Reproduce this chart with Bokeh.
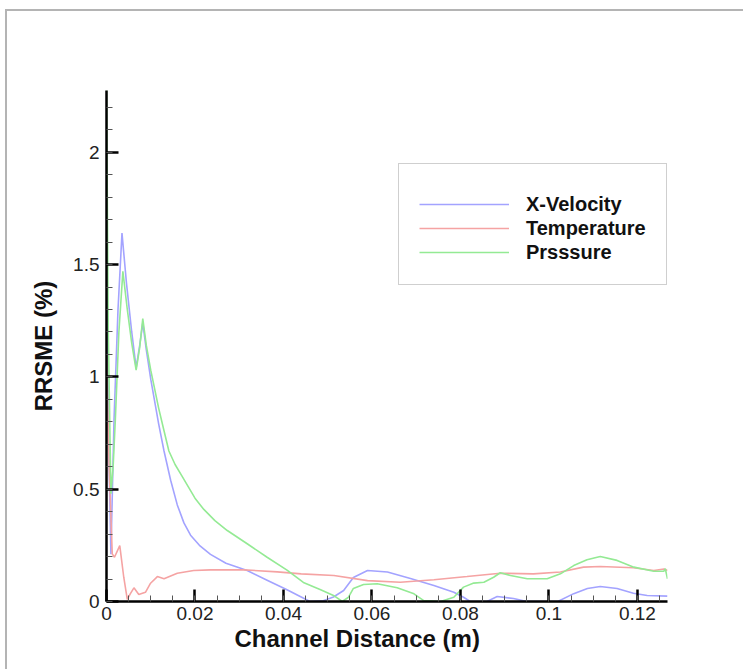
from bokeh.plotting import figure
from bokeh.models import Range1d, SingleIntervalTicker, CustomJSTickFormatter, Title
from bokeh.embed import file_html
from bokeh.resources import INLINE

# ---- data ----
vel_x = [0, 0.0005, 0.0010, 0.0017, 0.0026, 0.0035, 0.0045, 0.0057, 0.0067, 0.0075, 0.0082,
         0.0090, 0.0100, 0.0118, 0.0130, 0.0145, 0.0160, 0.0175, 0.0190, 0.0210, 0.0235,
         0.0270, 0.0318, 0.0363, 0.0408, 0.0440, 0.0460, 0.0490, 0.0513, 0.0536, 0.0558,
         0.0590, 0.0635, 0.0687, 0.0740, 0.0785, 0.0807, 0.0822, 0.0860, 0.0883, 0.0920,
         0.0950, 0.1020, 0.1056, 0.1087, 0.1116, 0.1154, 0.1191, 0.1222, 0.1268]
vel_y = [1.5, 0.7, 0.21, 0.81, 1.3, 1.64, 1.42, 1.2, 1.04, 1.14, 1.24,
         1.12, 0.99, 0.79, 0.67, 0.54, 0.43, 0.35, 0.295, 0.25, 0.21,
         0.17, 0.138, 0.095, 0.052, 0.02, 0.0, 0.003, 0.02, 0.049, 0.107,
         0.138, 0.131, 0.102, 0.071, 0.041, 0.019, 0.0, 0.0, 0.022, 0.013,
         0.0, 0.0, 0.035, 0.058, 0.067, 0.058, 0.037, 0.027, 0.024]

temp_x = [0, 0.0006, 0.0013, 0.0018, 0.0030, 0.0039, 0.0047, 0.0054, 0.0062, 0.0073, 0.0088,
          0.0099, 0.0115, 0.0130, 0.0160, 0.0197, 0.0235, 0.0310, 0.0386, 0.0440, 0.0514,
          0.0590, 0.0664, 0.0740, 0.0815, 0.0890, 0.0965, 0.1026, 0.1078, 0.1116, 0.1191,
          0.1237, 0.1260, 0.1268]
temp_y = [1.1, 0.6, 0.212, 0.197, 0.249, 0.108, 0.01, 0.035, 0.061, 0.031, 0.041,
          0.08, 0.111, 0.101, 0.126, 0.138, 0.141, 0.141, 0.132, 0.123, 0.116,
          0.093, 0.086, 0.097, 0.111, 0.126, 0.123, 0.131, 0.153, 0.156, 0.150,
          0.138, 0.145, 0.138]

pres_x = [0, 0.0004, 0.0010, 0.0015, 0.0020, 0.0028, 0.0037, 0.0047, 0.0057, 0.0067, 0.0075,
          0.0082, 0.0090, 0.0100, 0.0118, 0.0130, 0.0141, 0.0155, 0.0170, 0.0185, 0.0200,
          0.0220, 0.0245, 0.0273, 0.0318, 0.0363, 0.0408, 0.0445, 0.0484, 0.0513, 0.0533,
          0.0547, 0.0558, 0.0581, 0.0612, 0.0657, 0.0695, 0.0717, 0.0755, 0.0785, 0.0807,
          0.0830, 0.0853, 0.0875, 0.0890, 0.0913, 0.0951, 0.0996, 0.1026, 0.1056, 0.1086,
          0.1116, 0.1154, 0.1192, 0.1237, 0.1260, 0.1263, 0.1268]
pres_y = [2.3, 1.2, 0.48, 0.6, 0.81, 1.2, 1.47, 1.3, 1.15, 1.03, 1.13,
          1.26, 1.14, 1.03, 0.86, 0.76, 0.67, 0.61, 0.56, 0.51, 0.46,
          0.41, 0.36, 0.316, 0.257, 0.197, 0.14, 0.085, 0.052, 0.027, 0.0,
          0.019, 0.058, 0.076, 0.079, 0.061, 0.034, 0.004, 0.0, 0.019, 0.064,
          0.082, 0.086, 0.108, 0.128, 0.116, 0.101, 0.101, 0.123, 0.16, 0.186,
          0.2, 0.183, 0.153, 0.135, 0.135, 0.146, 0.101]

series_names = ["X-Velocity", "Temperature", "Prsssure"]
series_colors = ["#a3a3ff", "#f5a3a3", "#94ea94"]

FONT = "Liberation Sans"

p = figure(width=738, height=660, output_backend="svg", toolbar_location=None,
           x_range=Range1d(0, 0.1268), y_range=Range1d(0, 2.275),
           min_border_left=99, min_border_top=79, min_border_right=78, min_border_bottom=70,
           outline_line_color=None, background_fill_color="white", border_fill_color="white")
p.margin = (9, 0, 0, 5)
p.styles = {"border-top": "2px solid #b4b4b4", "border-left": "2px solid #b4b4b4"}

p.grid.visible = False

for xs, ys, name, col in zip([vel_x, temp_x, pres_x], [vel_y, temp_y, pres_y],
                             series_names, series_colors):
    p.line(xs, ys, line_color=col, line_width=1.6, legend_label=name)

p.xaxis.ticker = SingleIntervalTicker(interval=0.02, num_minor_ticks=4)
p.yaxis.ticker = SingleIntervalTicker(interval=0.5, num_minor_ticks=5)
p.xaxis.formatter = CustomJSTickFormatter(
    code="var s = tick.toFixed(2); s = s.replace(/0+$/, ''); return s.replace(/\\.$/, '');")
p.yaxis.formatter = CustomJSTickFormatter(
    code="var s = tick.toFixed(1); s = s.replace(/0+$/, ''); return s.replace(/\\.$/, '');")

for ax in (p.xaxis[0], p.yaxis[0]):
    ax.axis_line_color = "black"
    ax.axis_line_width = 2.5
    ax.major_tick_line_color = "black"
    ax.major_tick_line_width = 2.5
    ax.minor_tick_line_color = "#555555"
    ax.minor_tick_line_width = 1
    ax.major_tick_in = 12
    ax.major_tick_out = 0
    ax.minor_tick_in = 6
    ax.minor_tick_out = 0
    ax.major_label_text_font = FONT
    ax.major_label_text_font_size = "19px"
    ax.major_label_text_color = "#222222"
    ax.axis_label_text_font = FONT
    ax.axis_label_text_font_size = "24px"
    ax.axis_label_text_font_style = "bold"
    ax.axis_label_text_color = "#111111"

p.yaxis.axis_label = "RRSME (%)"
p.xaxis.major_label_standoff = 5
p.yaxis.major_label_standoff = 7
p.yaxis.axis_label_standoff = 13

xt = Title(text="Channel Distance (m)", align="left", offset=128,
           text_font=FONT, text_font_size="24px", text_font_style="bold",
           text_color="#111111", standoff=0)
p.add_layout(xt, "below")

lg = p.legend[0]
lg.location = (292, 316)
lg.title = " "
lg.title_text_font_size = "7px"
lg.title_standoff = 1
lg.label_text_font = FONT
lg.label_text_font_size = "20px"
lg.label_text_font_style = "bold"
lg.label_text_color = "#111111"
lg.glyph_width = 90
lg.glyph_height = 24
lg.label_height = 24
lg.label_standoff = 17
lg.spacing = 0
lg.padding = 20
lg.margin = 0
lg.border_line_color = "#a0a0a0"
lg.border_line_width = 1.5
lg.background_fill_color = "white"
lg.background_fill_alpha = 1

open("out.html", "w").write(file_html(p, INLINE))
